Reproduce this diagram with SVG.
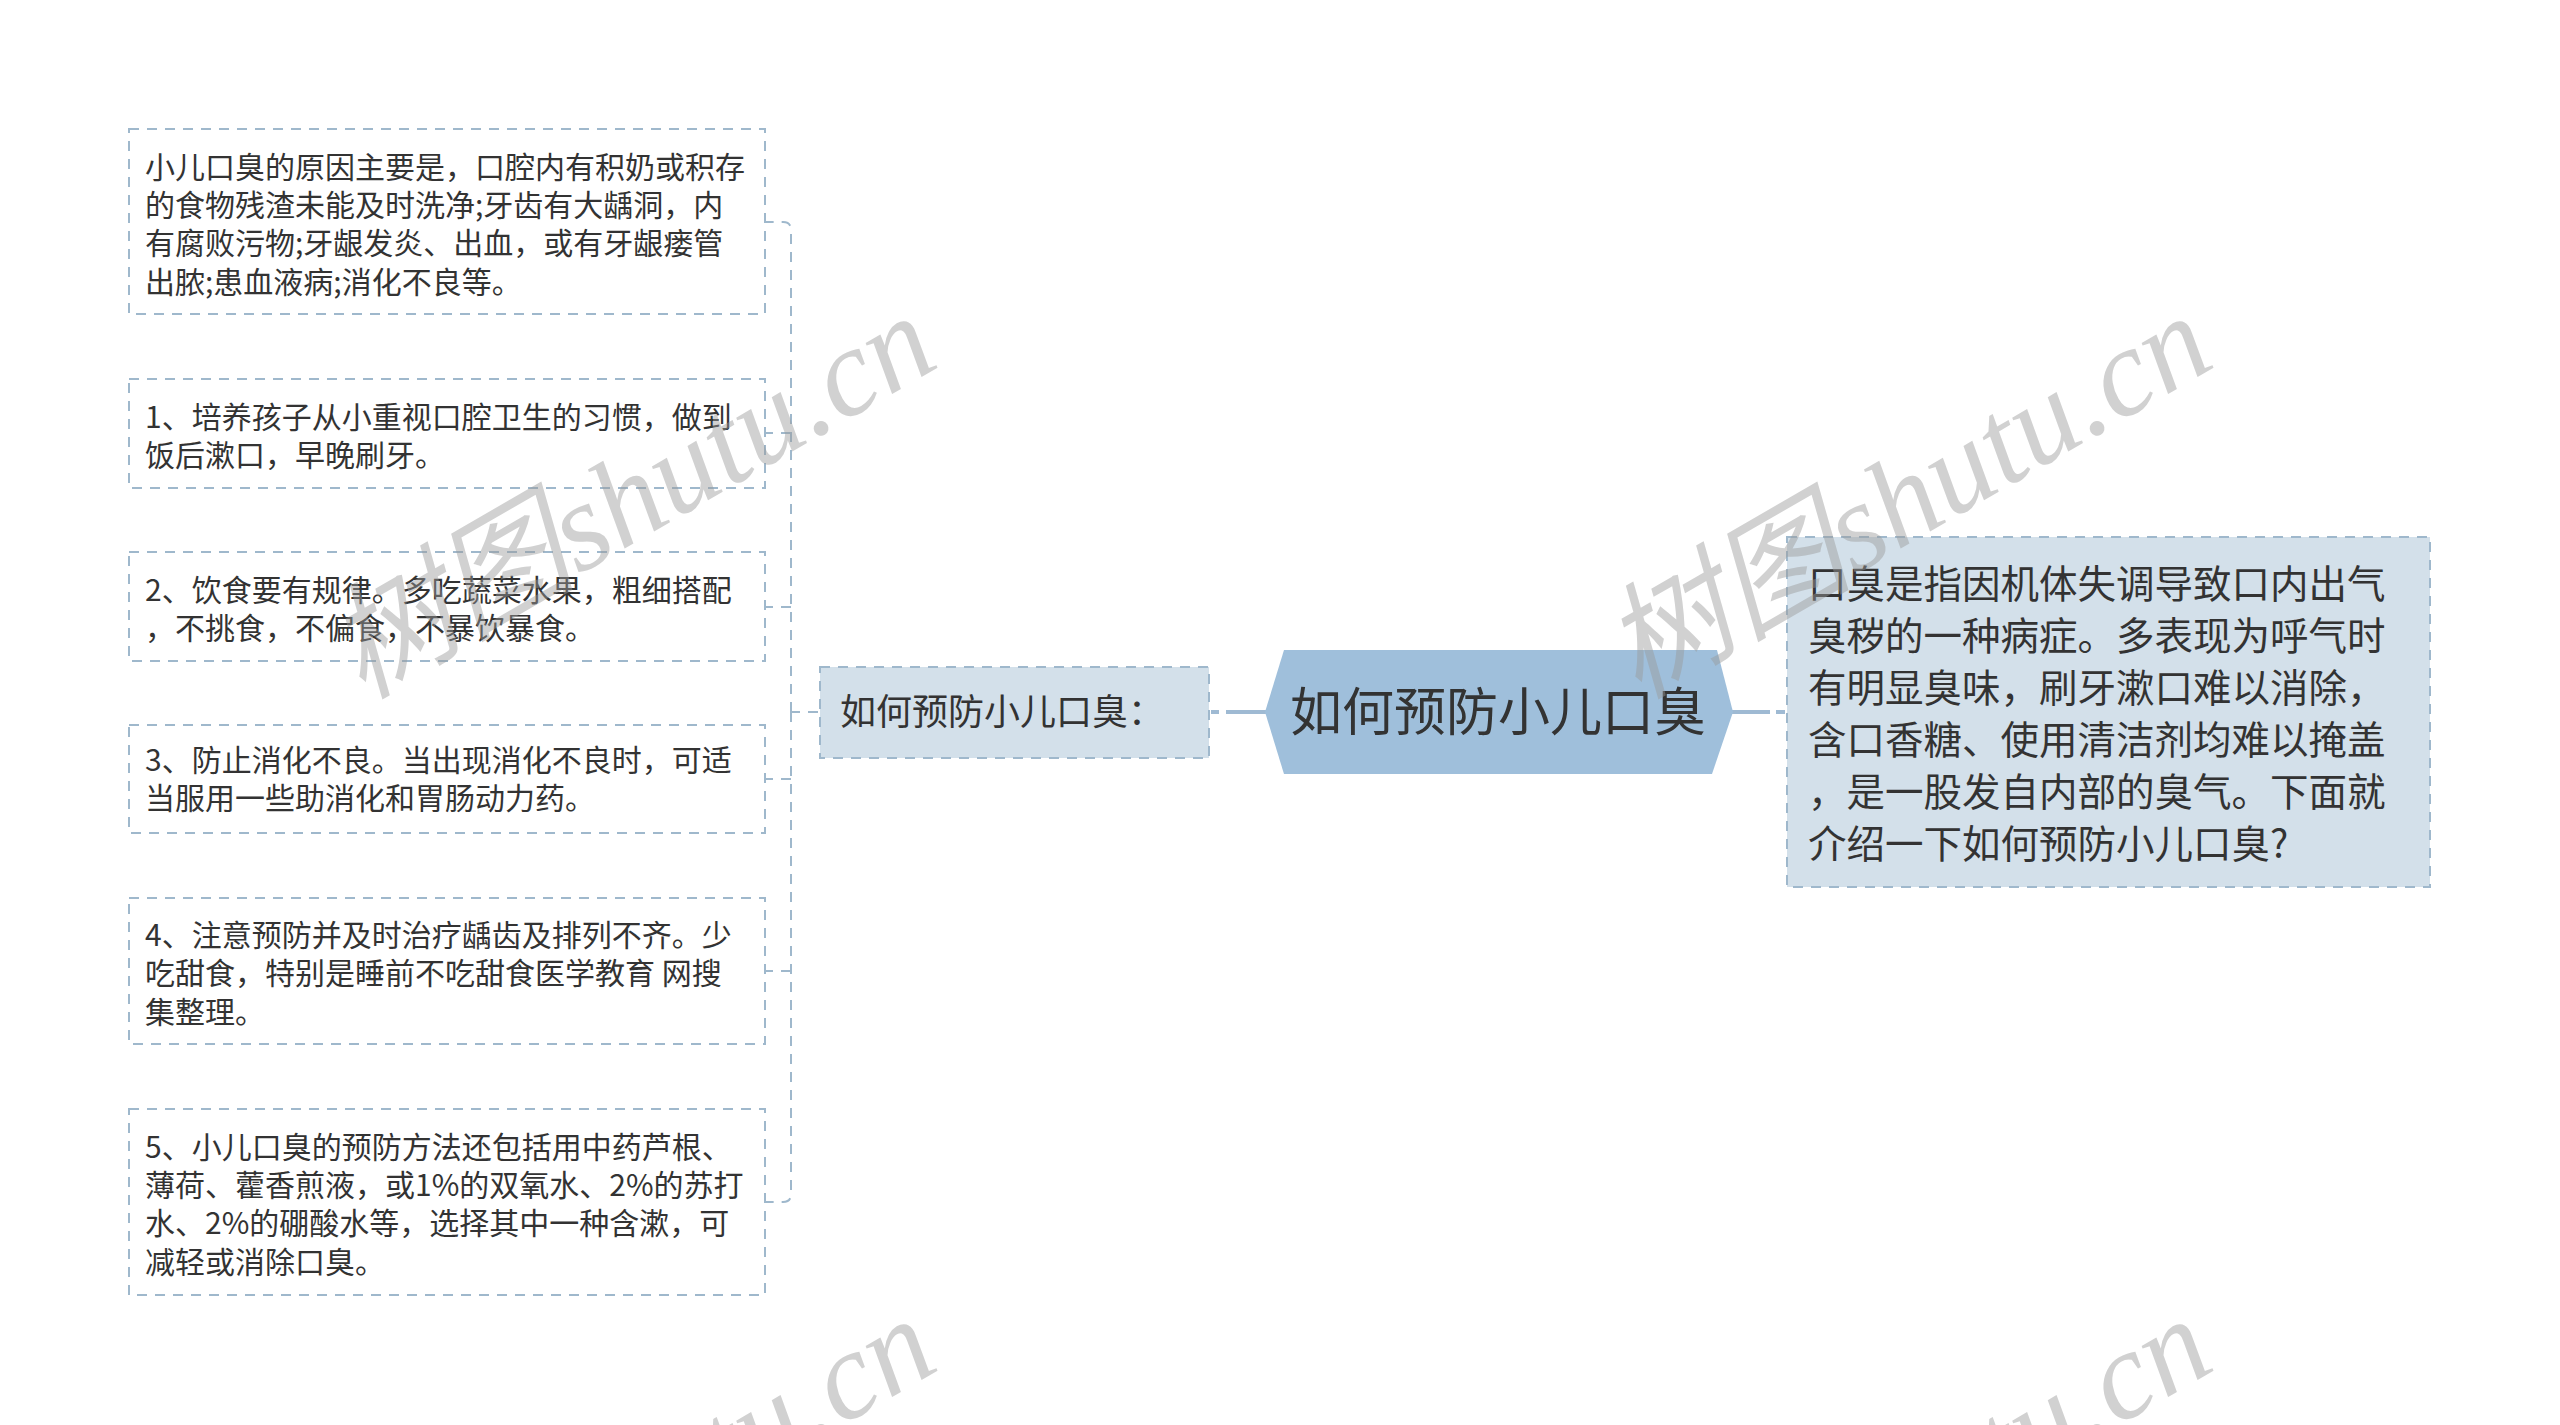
<svg xmlns="http://www.w3.org/2000/svg" width="2560" height="1425" viewBox="0 0 2560 1425">
<style>
.box{fill:#ffffff;stroke:#9fb8cc;stroke-width:2;stroke-dasharray:10 8}
.sub{fill:#d3e0ea;stroke:#9fb8cc;stroke-width:2;stroke-dasharray:10 8}
.t30{font-family:"Noto Sans CJK SC","Noto Sans",sans-serif;font-size:30px;fill:#333333}
.t38{font-family:"Noto Sans CJK SC","Noto Sans",sans-serif;font-size:38.5px;fill:#333333}
.t36{font-family:"Noto Sans CJK SC","Noto Sans",sans-serif;font-size:36px;fill:#333333}
.t52{font-family:"Noto Sans CJK SC","Noto Sans",sans-serif;font-size:52px;fill:#333333}
.dash{fill:none;stroke:#9fb8cc;stroke-width:2;stroke-dasharray:10 8}
.solid{fill:none;stroke:#9fbad3;stroke-width:4}
.wm{font-family:"Liberation Serif","Noto Sans CJK SC",serif;font-style:italic;font-size:125px;fill:#9a9a9a;opacity:0.45}
</style>
<rect width="2560" height="1425" fill="#ffffff"/>
<g id="connectors">
<path class="dash" d="M818 712 L791 712"/>
<path class="dash" d="M791 712 L791 230 Q791 222 783 222 L765 222"/>
<path class="dash" d="M791 433 L765 433"/>
<path class="dash" d="M791 607 L765 607"/>
<path class="dash" d="M791 712 L791 1194 Q791 1202 783 1202 L765 1202"/>
<path class="dash" d="M791 779 L765 779"/>
<path class="dash" d="M791 971 L765 971"/>
<path class="solid" d="M1226 712 L1266 712"/>
<path class="solid" d="M1211 712 L1219 712"/>
<path class="solid" d="M1732 712 L1770 712"/>
<path class="solid" d="M1776 712 L1785 712"/>
</g>
<g id="node-root">
<polygon points="1265,712 1284,650 1717,650 1733,712 1712,774 1284,774" fill="#9fbfdb"/>
<text class="t52" x="1498" y="731" text-anchor="middle">如何预防小儿口臭</text>
</g>
<g id="node-how">
<rect class="sub" x="820" y="667" width="389" height="91"/>
<text class="t36" x="840" y="725">如何预防小儿口臭：</text>
</g>
<g id="node-intro">
<rect class="sub" x="1787" y="537" width="643" height="350"/>
<text class="t38" x="1808" y="598">口臭是指因机体失调导致口内出气</text>
<text class="t38" x="1808" y="650">臭秽的一种病症。多表现为呼气时</text>
<text class="t38" x="1808" y="702">有明显臭味，刷牙漱口难以消除，</text>
<text class="t38" x="1808" y="754">含口香糖、使用清洁剂均难以掩盖</text>
<text class="t38" x="1808" y="806">，是一股发自内部的臭气。下面就</text>
<text class="t38" x="1808" y="858">介绍一下如何预防小儿口臭?</text>
</g>
<g id="node-cause">
<rect class="box" x="129" y="129" width="636" height="185"/>
<text class="t30" x="145" y="178">小儿口臭的原因主要是，口腔内有积奶或积存</text>
<text class="t30" x="145" y="216">的食物残渣未能及时洗净;牙齿有大龋洞，内</text>
<text class="t30" x="145" y="254">有腐败污物;牙龈发炎、出血，或有牙龈瘘管</text>
<text class="t30" x="145" y="293">出脓;患血液病;消化不良等。</text>
</g>
<g id="node-1">
<rect class="box" x="129" y="379" width="636" height="109"/>
<text class="t30" x="145" y="428">1、培养孩子从小重视口腔卫生的习惯，做到</text>
<text class="t30" x="145" y="466">饭后漱口，早晚刷牙。</text>
</g>
<g id="node-2">
<rect class="box" x="129" y="552" width="636" height="109"/>
<text class="t30" x="145" y="601">2、饮食要有规律。多吃蔬菜水果，粗细搭配</text>
<text class="t30" x="145" y="639">，不挑食，不偏食，不暴饮暴食。</text>
</g>
<g id="node-3">
<rect class="box" x="129" y="725" width="636" height="108"/>
<text class="t30" x="145" y="771">3、防止消化不良。当出现消化不良时，可适</text>
<text class="t30" x="145" y="809">当服用一些助消化和胃肠动力药。</text>
</g>
<g id="node-4">
<rect class="box" x="129" y="898" width="636" height="146"/>
<text class="t30" x="145" y="946">4、注意预防并及时治疗龋齿及排列不齐。少</text>
<text class="t30" x="145" y="984">吃甜食，特别是睡前不吃甜食医学教育 网搜</text>
<text class="t30" x="145" y="1023">集整理。</text>
</g>
<g id="node-5">
<rect class="box" x="129" y="1109" width="636" height="186"/>
<text class="t30" x="145" y="1158">5、小儿口臭的预防方法还包括用中药芦根、</text>
<text class="t30" x="145" y="1196">薄荷、藿香煎液，或1%的双氧水、2%的苏打</text>
<text class="t30" x="145" y="1234">水、2%的硼酸水等，选择其中一种含漱，可</text>
<text class="t30" x="145" y="1273">减轻或消除口臭。</text>
</g>
<g id="watermarks">
<text class="wm" transform="translate(362,700) rotate(-30)">树图shutu.cn</text>
<text class="wm" transform="translate(1638,700) rotate(-30)">树图shutu.cn</text>
<text class="wm" transform="translate(362,1703) rotate(-30)">树图shutu.cn</text>
<text class="wm" transform="translate(1638,1703) rotate(-30)">树图shutu.cn</text>
</g>
</svg>
